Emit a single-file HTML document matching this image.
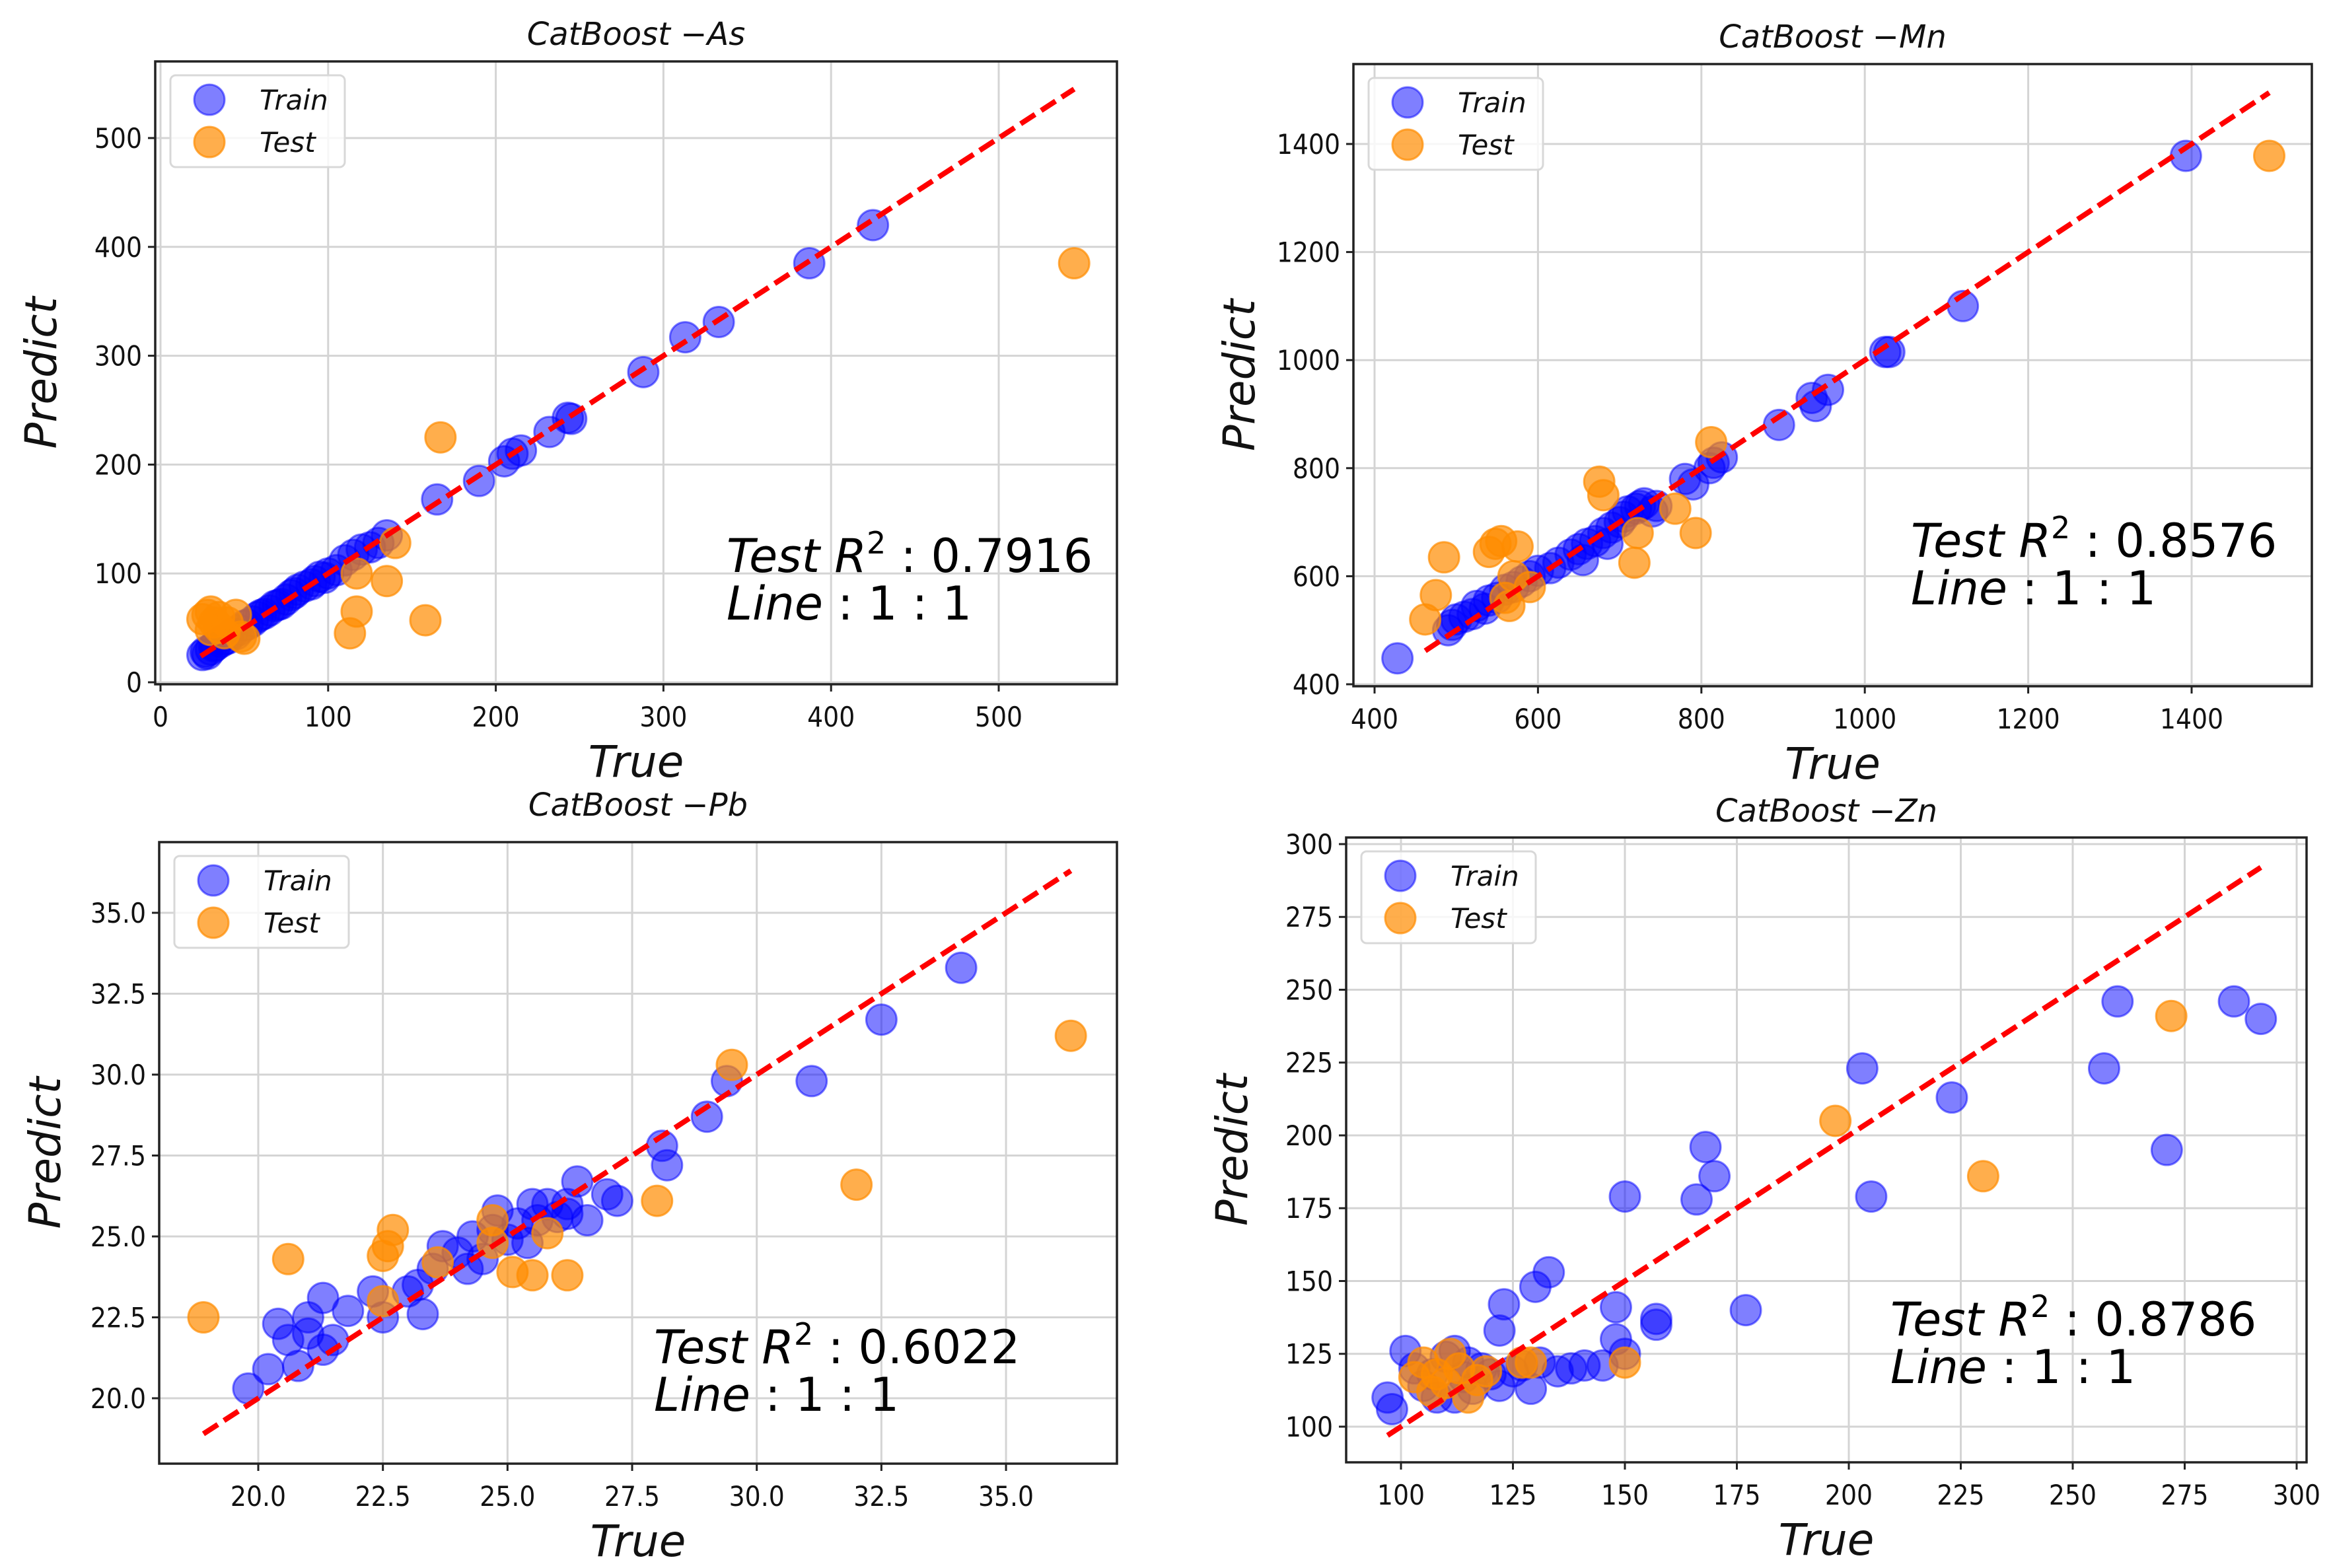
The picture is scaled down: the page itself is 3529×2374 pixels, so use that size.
<!DOCTYPE html>
<html><head><meta charset="utf-8"><style>
html,body{margin:0;padding:0;background:#fff;}
svg{display:block;font-family:"DejaVu Sans","Liberation Sans",sans-serif;}
</style></head><body>
<svg id="fig" width="3529" height="2374" viewBox="0 0 3529 2374" xmlns="http://www.w3.org/2000/svg"></svg>
<script>
// ---- As ----
const asTrain = [[25,25],[27,28],[30,30],[33,34],[36,37],[40,40],[43,45],[47,48],[50,52],[55,56],[58,60],[62,63],[65,66],[68,70],[72,72],[75,76],[78,80],[82,85],[86,88],[90,90],[95,97],[100,100],[105,103],[110,112],[115,117],[120,122],[125,124],[130,128],[135,135],[28,26],[32,33],[38,39],[45,44],[52,53],[60,62],[70,71],[80,82],[92,93],[98,96],[165,168],[190,185],[205,203],[210,210],[215,213],[232,230],[243,243],[245,242],[288,285],[313,317],[333,331],[387,385],[425,420]];
const asTest = [[25,58],[28,62],[30,65],[32,55],[35,50],[38,45],[40,55],[45,62],[48,42],[50,40],[113,45],[117,65],[117,100],[135,93],[140,128],[158,57],[167,225],[545,385],[30,48],[35,60]];
const asXTicks = [0,100,200,300,400,500];
const asYTicks = [0,100,200,300,400,500];
// ---- Mn ----
const mnTrain = [[428,448],[490,500],[495,510],[500,520],[510,525],[520,530],[525,545],[535,540],[540,555],[550,560],[560,575],[570,580],[580,590],[590,600],[600,610],[615,615],[625,625],[640,640],[650,650],[655,630],[660,660],[670,665],[680,680],[685,660],[690,690],[700,700],[705,710],[710,720],[720,725],[725,730],[730,735],[740,720],[745,730],[780,780],[790,770],[810,800],[815,810],[825,820],[895,880],[935,930],[940,915],[955,945],[1025,1015],[1030,1015],[1120,1100],[1393,1378]];
const mnTest = [[462,520],[475,565],[485,635],[540,645],[548,660],[555,665],[570,600],[575,655],[560,560],[565,545],[590,580],[675,775],[680,750],[718,625],[722,680],[768,725],[793,680],[812,848],[1495,1378]];
const mnXTicks = [400,600,800,1000,1200,1400];
const mnYTicks = [400,600,800,1000,1200,1400];
// ---- Pb ----
const pbTrain = [[19.8,20.3],[20.2,20.9],[20.4,22.3],[20.6,21.8],[20.8,21.0],[21.0,22.5],[21.3,23.1],[21.3,21.5],[21.5,21.8],[21.8,22.7],[22.3,23.3],[22.5,22.5],[23.0,23.3],[23.3,22.6],[23.5,24.0],[23.7,24.7],[24.0,24.5],[24.2,24.0],[24.3,25.0],[24.5,24.3],[24.8,25.8],[25.0,24.9],[25.2,25.4],[25.4,24.8],[25.6,25.5],[25.8,26.0],[26.0,25.6],[26.2,25.7],[26.4,26.7],[26.6,25.5],[27.0,26.3],[27.2,26.1],[28.1,27.8],[28.2,27.2],[29.0,28.7],[29.4,29.8],[31.1,29.8],[32.5,31.7],[34.1,33.3],[23.2,23.5],[24.7,25.2],[25.5,26.0],[26.2,26.0],[21.0,22.0]];
const pbTest = [[18.9,22.5],[20.6,24.3],[22.5,24.4],[22.6,24.7],[22.7,25.2],[22.5,23.0],[23.6,24.2],[24.7,25.5],[24.7,24.8],[25.1,23.9],[25.5,23.8],[25.8,25.1],[26.2,23.8],[28.0,26.1],[29.5,30.3],[32.0,26.6],[36.3,31.2]];
const pbXTicks = [20,22.5,25,27.5,30,32.5,35];
const pbYTicks = [20,22.5,25,27.5,30,32.5,35];
// ---- Zn ----
const znTrain = [[97,110],[98,106],[101,126],[103,120],[105,114],[108,110],[110,124],[112,126],[114,117],[116,113],[118,120],[120,118],[122,114],[122,133],[123,142],[127,121],[129,113],[130,148],[131,122],[133,153],[135,119],[138,120],[141,121],[145,121],[148,130],[148,141],[150,125],[150,179],[157,137],[157,135],[166,178],[168,196],[170,186],[177,140],[203,223],[205,179],[223,213],[257,223],[260,246],[271,195],[286,246],[292,240],[107,118],[115,122],[125,119],[112,110]];
const znTest = [[103,117],[105,122],[107,112],[108,118],[110,115],[111,125],[113,120],[115,110],[117,116],[119,119],[127,122],[129,122],[150,122],[197,205],[230,186],[272,241]];
const znXTicks = [100,125,150,175,200,225,250,275,300];
const znYTicks = [100,125,150,175,200,225,250,275,300];

const NS = "http://www.w3.org/2000/svg";
const fig = document.getElementById('fig');
function mk(tag, attrs, parent){ const e=document.createElementNS(NS,tag); for(const k in attrs) e.setAttribute(k,attrs[k]); (parent||fig).appendChild(e); return e; }

function panel(cfg){
  const g = mk('g',{});
  
  
  const b = cfg.box;
  const sx = v => cfg.xPx0 + (v - cfg.xV0) * cfg.xScale;
  const sy = v => cfg.yPx0 - (v - cfg.yV0) * cfg.yScale;
  cfg.xTicks.forEach(t=>{ const x=sx(t); if(x>b.x0&&x<b.x1){ const l=mk('line',{x1:x,x2:x,y1:b.y0,y2:b.y1,stroke:'#d4d4d4','stroke-width':3},g);
      }});
  cfg.yTicks.forEach(t=>{ const y=sy(t); if(y>b.y0&&y<b.y1){ const l=mk('line',{x1:b.x0,x2:b.x1,y1:y,y2:y,stroke:'#d4d4d4','stroke-width':3},g);
      }});
  const tr = mk('g',{},g);
   
  cfg.train.forEach(p=>{ const c=mk('circle',{cx:sx(p[0]),cy:sy(p[1]),r:23,fill:'rgba(0,0,255,0.5)',stroke:'rgba(0,0,255,0.5)','stroke-width':3},tr);
      });
  const te = mk('g',{},g);
   
  cfg.test.forEach(p=>{ const c=mk('circle',{cx:sx(p[0]),cy:sy(p[1]),r:23,fill:'rgba(255,140,0,0.7)',stroke:'rgba(255,140,0,0.7)','stroke-width':3},te);
      });
  const ln = mk('line',{x1:sx(cfg.line[0]),y1:sy(cfg.line[0]),x2:sx(cfg.line[1]),y2:sy(cfg.line[1]),stroke:'#ff0000','stroke-width':8,'stroke-dasharray':'26 11'},g);
   
  const fr = mk('rect',{x:b.x0,y:b.y0,width:b.x1-b.x0,height:b.y1-b.y0,fill:'none',stroke:'#222','stroke-width':3.5},g);
   
  cfg.xTicks.forEach(t=>{ const x=sx(t);
    mk('line',{x1:x,x2:x,y1:b.y1,y2:b.y1+11,stroke:'#222','stroke-width':3},g);
    const tx=mk('text',{x:x,y:b.y1+64,'font-size':42,'text-anchor':'middle',fill:'#111',transform:`translate(${x} 0) scale(0.9 1) translate(${-x} 0)`},g);
    tx.textContent = cfg.fmt(t);
      });
  cfg.yTicks.forEach(t=>{ const y=sy(t), x=b.x0-20;
    mk('line',{x1:b.x0-11,x2:b.x0,y1:y,y2:y,stroke:'#222','stroke-width':3},g);
    const tx=mk('text',{x:x,y:y+15,'font-size':42,'text-anchor':'end',fill:'#111',transform:`translate(${x} 0) scale(0.9 1) translate(${-x} 0)`},g);
    tx.textContent = cfg.fmt(t);
      });
  const cx=(b.x0+b.x1)/2;
  const ti=mk('text',{x:cx,y:b.y0-cfg.titleOff,'font-size':48,'font-style':'italic','text-anchor':'middle',fill:'#111'},g);
  ti.textContent='CatBoost  \u2212'+cfg.key;
   
  const xl=mk('text',{x:cx,y:b.y1+140,'font-size':66,'font-style':'italic','text-anchor':'middle',fill:'#111'},g);
  xl.textContent='True';
   
  const ymid=(b.y0+b.y1)/2, ylx=b.x0-150;
  const yl=mk('text',{x:ylx,y:ymid,'font-size':66,'font-style':'italic','text-anchor':'middle',transform:`rotate(-90 ${ylx} ${ymid})`,fill:'#111'},g);
  yl.textContent='Predict';
   
  const lg=mk('g',{},g);
   
  const lx=b.x0+23, ly=b.y0+21;
  mk('rect',{x:lx,y:ly,width:264,height:139,rx:8,fill:'rgba(255,255,255,0.8)',stroke:'#d8d8d8','stroke-width':3},lg);
  [['Train','rgba(0,0,255,0.5)',37],['Test','rgba(255,140,0,0.7)',101]].forEach(e=>{
    const en=mk('g',{},lg);
     
    mk('circle',{cx:lx+59,cy:ly+e[2],r:23,fill:e[1],stroke:e[1],'stroke-width':3},en);
    const t=mk('text',{x:lx+135,y:ly+e[2]+15,'font-size':42,'font-style':'italic',fill:'#111'},en);
    t.textContent=e[0];
  });
  const an=mk('text',{x:cfg.ann[0],y:cfg.ann[1],'font-size':70,'font-style':'italic',fill:'#000'},g);
   
  an.innerHTML='Test <tspan>R</tspan><tspan dy="-28" font-size="46" font-style="normal">2</tspan><tspan dy="28" font-style="normal"> :  '+cfg.r2+'</tspan>';
  const an2=mk('text',{x:cfg.ann[0],y:cfg.ann[1]+72,'font-size':70,'font-style':'italic',fill:'#000'},g);
   
  an2.innerHTML='Line<tspan font-style="normal"> :  1 : 1</tspan>';
}
const f0 = v => String(v);
const f1 = v => v.toFixed(1);
panel({key:'As',box:{x0:235,x1:1691,y0:93,y1:1036},xPx0:243,xV0:0,xScale:2.538,yPx0:1033,yV0:0,yScale:1.648,
  xTicks:asXTicks,yTicks:asYTicks,train:asTrain,test:asTest,line:[24,545],fmt:f0,titleOff:25,ann:[1100,866],r2:'0.7916'});
panel({key:'Mn',box:{x0:2049,x1:3500,y0:97,y1:1039},xPx0:2081,xV0:400,xScale:1.237,yPx0:1036,yV0:400,yScale:0.818,
  xTicks:mnXTicks,yTicks:mnYTicks,train:mnTrain,test:mnTest,line:[462,1495],fmt:f0,titleOff:25,ann:[2893,843],r2:'0.8576'});
panel({key:'Pb',box:{x0:241,x1:1691,y0:1275,y1:2216},xPx0:391,xV0:20,xScale:75.47,yPx0:2117,yV0:20,yScale:49.0,
  xTicks:pbXTicks,yTicks:pbYTicks,train:pbTrain,test:pbTest,line:[18.9,36.3],fmt:f1,titleOff:40,ann:[990,2064],r2:'0.6022'});
panel({key:'Zn',box:{x0:2038,x1:3492,y0:1268,y1:2214},xPx0:2121,xV0:100,xScale:6.78,yPx0:2160,yV0:100,yScale:4.41,
  xTicks:znXTicks,yTicks:znYTicks,train:znTrain,test:znTest,line:[97,292],fmt:f0,titleOff:24,ann:[2862,2022],r2:'0.8786'});
</script>
</body></html>
